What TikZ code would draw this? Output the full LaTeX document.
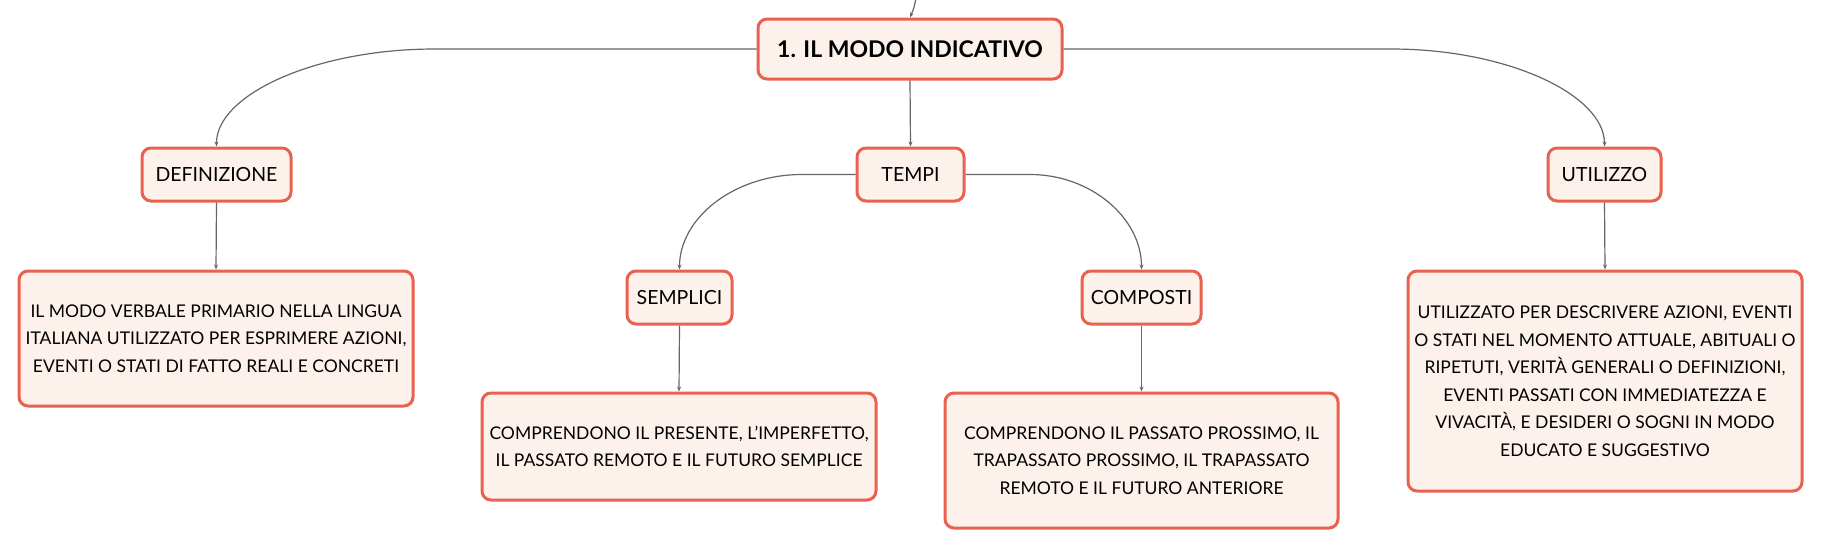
\documentclass[tikz,border=0pt]{standalone}
\usepackage{fontspec}
\setmainfont{Lato}
\usetikzlibrary{arrows.meta}
\definecolor{boxborder}{HTML}{E9614F}
\definecolor{boxfill}{HTML}{FDF1EC}
\definecolor{linkgray}{HTML}{666666}
\tikzset{
  mapbox/.style={draw=boxborder, fill=boxfill, line width=3pt, rounded corners=9pt,
    inner sep=0pt, align=center, text=black},
  labelbox/.style={mapbox, font=\fontsize{19.5}{24}\selectfont},
  textbox/.style={mapbox, font=\fontsize{17.5}{27.5}\selectfont},
  titlebox/.style={mapbox, font=\fontsize{23}{28}\selectfont\bfseries},
  link/.style={draw=linkgray, line width=1.2pt, -{Stealth[length=5pt,width=4pt]}}
}
\begin{document}
\begin{tikzpicture}[x=1pt,y=-1pt]
\useasboundingbox (0,0) rectangle (1821,549);
\node[titlebox, minimum width=304pt, minimum height=60pt] (main) at (910,49) {1. IL MODO INDICATIVO};
\node[labelbox, minimum width=149pt, minimum height=53pt] (def) at (216.5,174.5) {DEFINIZIONE};
\node[labelbox, minimum width=107pt, minimum height=53pt] (tempi) at (910.5,174.5) {TEMPI};
\node[labelbox, minimum width=113pt, minimum height=53pt] (uti) at (1604.5,174.5) {UTILIZZO};
\node[labelbox, minimum width=105pt, minimum height=53pt] (sem) at (679.5,297.5) {SEMPLICI};
\node[labelbox, minimum width=119pt, minimum height=53pt] (comp) at (1141.5,297.5) {COMPOSTI};
\node[textbox, minimum width=394pt, minimum height=135pt] (deftxt) at (216,338.5)
  {IL MODO VERBALE PRIMARIO NELLA LINGUA\\ITALIANA UTILIZZATO PER ESPRIMERE AZIONI,\\EVENTI O STATI DI FATTO REALI E CONCRETI};
\node[textbox, minimum width=394pt, minimum height=107pt] (semtxt) at (679,446.5)
  {COMPRENDONO IL PRESENTE, L'IMPERFETTO,\\IL PASSATO REMOTO E IL FUTURO SEMPLICE};
\node[textbox, minimum width=393pt, minimum height=135pt] (comptxt) at (1141.5,460.5)
  {COMPRENDONO IL PASSATO PROSSIMO, IL\\TRAPASSATO PROSSIMO, IL TRAPASSATO\\REMOTO E IL FUTURO ANTERIORE};
\node[textbox, minimum width=394pt, minimum height=220pt] (utitxt) at (1605,381)
  {UTILIZZATO PER DESCRIVERE AZIONI, EVENTI\\O STATI NEL MOMENTO ATTUALE, ABITUALI O\\RIPETUTI, VERITÀ GENERALI O DEFINIZIONI,\\EVENTI PASSATI CON IMMEDIATEZZA E\\VIVACITÀ, E DESIDERI O SOGNI IN MODO\\EDUCATO E SUGGESTIVO};
\coordinate (top) at (916,-2);
\coordinate (lh) at (435,49);
\coordinate (rh) at (1391,49);
\coordinate (tl) at (802,174.5);
\coordinate (tr) at (1030,174.5);
% connectors
\draw[link] (top) .. controls (914,8) .. (main.north);
\draw[link] (main.west) -- (lh) .. controls (315,49) and (216,95) .. (def.north);
\draw[link] (main.east) -- (rh) .. controls (1508,49) and (1604.5,95) .. (uti.north);
\draw[link] (main.south) -- (tempi.north);
\draw[link] (tempi.west) -- (tl) .. controls (734,174.5) and (679.5,218) .. (sem.north);
\draw[link] (tempi.east) -- (tr) .. controls (1091,174.5) and (1141.5,218) .. (comp.north);
\draw[link] (def.south) -- (deftxt.north);
\draw[link] (uti.south) -- (utitxt.north);
\draw[link] (sem.south) -- (semtxt.north);
\draw[link] (comp.south) -- (comptxt.north);
\end{tikzpicture}
\end{document}
